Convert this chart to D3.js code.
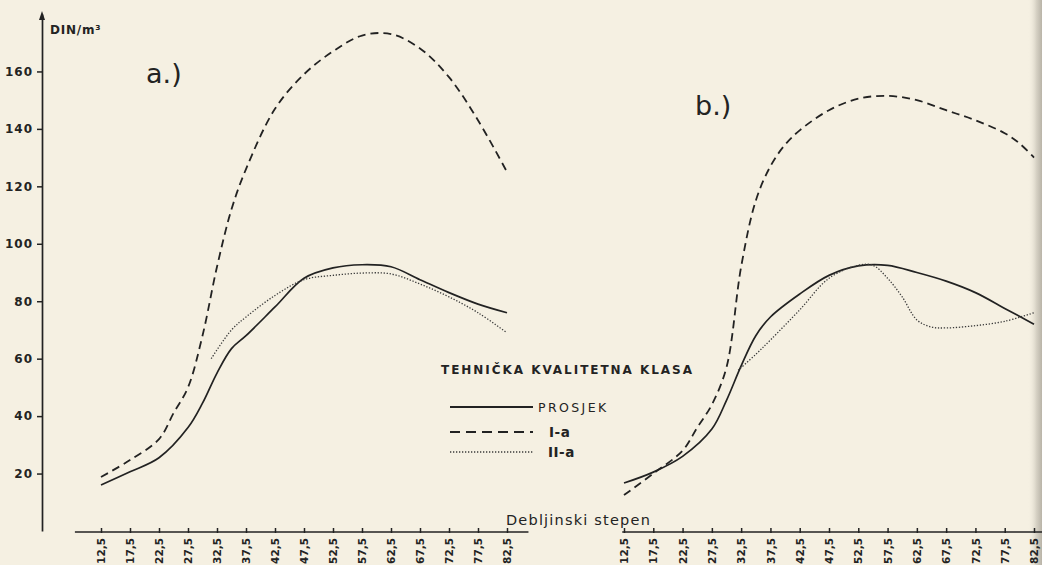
<!DOCTYPE html>
<html><head><meta charset="utf-8">
<script src="https://cdn.jsdelivr.net/npm/d3@7"></script>
<style>
html,body{margin:0;padding:0;background:#f5f0e2;}
svg{display:block;}
text{font-family:"DejaVu Sans",sans-serif;fill:#232323;}
</style></head><body>
<svg id="c" width="1042" height="565"></svg>
<script>
// ---- data ----
const yTicks = [20, 40, 60, 80, 100, 120, 140, 160];
const xTicks = [12.5, 17.5, 22.5, 27.5, 32.5, 37.5, 42.5, 47.5, 52.5, 57.5, 62.5, 67.5, 72.5, 77.5, 82.5];

// panel a.)
const aProsjekX = [12.5, 17.5, 22.5, 27.5, 30, 32.5, 35, 37.5, 42.5, 47.5, 52.5, 57.5, 62.5, 67.5, 72.5, 77.5, 82.5];
const aProsjekY = [16, 20.6, 25.5, 36, 44.5, 55, 63.5, 68, 78, 88, 91.6, 92.7, 92, 87.5, 83, 79, 76];
const aIaX = [12.5, 17.5, 22.5, 25, 27.5, 30, 32.5, 35, 37.5, 42.5, 47.5, 52.5, 57.5, 62.5, 67.5, 72.5, 77.5, 82.5];
const aIaY = [18.8, 24.7, 32, 41, 50, 68, 92, 112, 126, 147, 159, 167, 172.5, 173, 168, 158, 143, 125];
const aIIaX = [31.5, 35, 37.5, 42.5, 47.5, 52.5, 57.5, 62.5, 67.5, 72.5, 77.5, 82.5];
const aIIaY = [60, 70, 74.5, 82, 87.5, 89, 89.8, 89.5, 86, 81.5, 76, 69];

// panel b.)
const bProsjekX = [12.5, 17.5, 22.5, 27.5, 30, 32.5, 35, 37.5, 42.5, 47.5, 52.5, 57.5, 62.5, 67.5, 72.5, 77.5, 82.5];
const bProsjekY = [16.7, 20.5, 26, 35.5, 45.5, 57.5, 68, 74.5, 82.5, 89, 92.3, 92.5, 90, 87, 83, 77.5, 72];
const bIaX = [12.5, 17.5, 22.5, 25, 27.5, 30, 32.5, 35, 37.5, 40, 42.5, 47.5, 52.5, 57.5, 62.5, 67.5, 72.5, 77.5, 80, 82.5];
const bIaY = [12.5, 20, 28, 36, 44, 57, 92, 115, 127, 134.5, 139.5, 146.5, 150.5, 151.5, 150, 146.5, 143, 138.5, 135, 130];
const bIIaX = [32, 35, 37.5, 42.5, 47.5, 52.5, 55, 57.5, 60, 62.5, 65, 67.5, 72.5, 77.5, 82.5];
const bIIaY = [56, 61.5, 66.5, 77, 88, 92.5, 92.5, 88, 81.5, 73.5, 71, 70.7, 71.5, 73, 76];

const legendTitle = "TEHNIČKA KVALITETNA KLASA";
const legendNames = ["PROSJEK", "I-a", "II-a"];
const yLabel = "DIN/m³";
const xLabel = "Debljinski stepen";
const panelLabels = ["a.)", "b.)"];

// ---- drawing ----
const svg = d3.select("#c");
const defs = svg.append("defs");
const gr = defs.append("linearGradient").attr("id", "edge").attr("x1", 0).attr("x2", 1).attr("y1", 0).attr("y2", 0);
gr.append("stop").attr("offset", "0%").attr("stop-color", "#f5f0e2").attr("stop-opacity", 0);
gr.append("stop").attr("offset", "60%").attr("stop-color", "#d6d1c4").attr("stop-opacity", 1);
gr.append("stop").attr("offset", "100%").attr("stop-color", "#b9b4a8").attr("stop-opacity", 1);

svg.append("rect").attr("width", 1042).attr("height", 565).attr("fill", "#f5f0e2");
svg.append("rect").attr("x", 1028).attr("width", 14).attr("height", 565).attr("fill", "url(#edge)");

const ink = "#222";
const y = d3.scaleLinear().domain([0, 180]).range([531, 14]);
const xA = d3.scaleLinear().domain([12.5, 82.5]).range([101, 507]);
const xB = d3.scaleLinear().domain([12.5, 82.5]).range([624, 1034]);

// y axis
const yAxis = svg.append("g").attr("transform", "translate(42,0)")
  .call(d3.axisLeft(y).tickValues(yTicks).tickSize(5).tickSizeOuter(0).tickPadding(4));
yAxis.select(".domain").attr("stroke", ink).attr("stroke-width", 1.7);
yAxis.selectAll(".tick line").attr("stroke", ink).attr("stroke-width", 1.5);
yAxis.selectAll(".tick text").attr("font-size", 12).attr("letter-spacing", 1)
  .attr("font-weight", "bold").attr("fill", "#2a2a2a").attr("font-family", "DejaVu Sans Condensed, DejaVu Sans");
// arrow head
svg.append("path")
  .attr("d", `M42,${y(180) - 3} L39,${y(180) + 6} L45,${y(180) + 6} Z`)
  .attr("fill", ink);
svg.append("text").attr("x", 50).attr("y", 34).attr("font-size", 12)
  .attr("letter-spacing", 0.8).attr("font-weight", "bold")
  .attr("font-family", "DejaVu Sans Condensed, DejaVu Sans").text(yLabel);

// x axes
function xAxis(scale, x0, x1) {
  const g = svg.append("g").attr("transform", "translate(0,532)");
  g.append("line").attr("x1", scale(x0)).attr("x2", scale(x1))
    .attr("stroke", ink).attr("stroke-width", 1.7);
  const ax = d3.axisBottom(scale).tickValues(xTicks).tickSize(0)
    .tickFormat(d => String(d).replace(".", ","));
  const a = g.append("g").call(ax);
  a.select(".domain").remove();
  a.selectAll(".tick").append("line").attr("y1", -4).attr("y2", 1)
    .attr("stroke", ink).attr("stroke-width", 1.5);
  a.selectAll(".tick text")
    .attr("transform", "rotate(-90)")
    .attr("x", -6).attr("y", 0).attr("dy", "0.35em")
    .attr("text-anchor", "end")
    .attr("font-size", 10.5).attr("font-weight", "bold").attr("fill", "#2a2a2a")
    .attr("font-family", "DejaVu Sans Condensed, DejaVu Sans");
}
xAxis(xA, 8, 86.2);
xAxis(xB, 12.2, 86.7);

svg.append("text").attr("x", 506).attr("y", 525).attr("font-size", 14.5)
  .attr("letter-spacing", 1.2).attr("font-family", "Liberation Sans, sans-serif")
  .attr("fill", "#2a2a2a").text(xLabel);

// curves
function series(scale, xs, ys, style) {
  const pts = xs.map((d, i) => [d, ys[i]]);
  const line = d3.line().x(d => scale(d[0])).y(d => y(d[1])).curve(d3.curveCatmullRom.alpha(0.5));
  const p = svg.append("path").datum(pts).attr("d", line).attr("fill", "none")
    .attr("stroke", ink).attr("stroke-linecap", "butt");
  if (style === "solid") p.attr("stroke-width", 1.7);
  if (style === "dash") p.attr("stroke-width", 1.8).attr("stroke-dasharray", "8,5");
  if (style === "dot") p.attr("stroke-width", 1.3).attr("stroke-dasharray", "1.3,1.7").attr("stroke", "#3a3a3a");
}
series(xA, aProsjekX, aProsjekY, "solid");
series(xA, aIaX, aIaY, "dash");
series(xA, aIIaX, aIIaY, "dot");
series(xB, bProsjekX, bProsjekY, "solid");
series(xB, bIaX, bIaY, "dash");
series(xB, bIIaX, bIIaY, "dot");

// panel labels
svg.append("text").attr("x", 146).attr("y", 83).attr("font-size", 27)
  .attr("font-family", "DejaVu Sans, sans-serif").text(panelLabels[0]);
svg.append("text").attr("x", 695).attr("y", 115).attr("font-size", 27)
  .attr("font-family", "DejaVu Sans, sans-serif").text(panelLabels[1]);

// legend
svg.append("text").attr("x", 441).attr("y", 374).attr("font-size", 12)
  .attr("font-weight", "bold").attr("font-family", "DejaVu Sans Condensed, DejaVu Sans")
  .attr("textLength", 251).attr("lengthAdjust", "spacing").text(legendTitle);
const lg = [
  {y: 407, style: "solid", name: legendNames[0], tx: 538, size: 12.5, ls: 2.4},
  {y: 432, style: "dash", name: legendNames[1], tx: 549, size: 13.5, ls: 0.5},
  {y: 452, style: "dot", name: legendNames[2], tx: 548, size: 13.5, ls: 0.5}
];
lg.forEach(d => {
  const l = svg.append("line").attr("x1", 450).attr("x2", 533).attr("y1", d.y).attr("y2", d.y)
    .attr("stroke", ink).attr("stroke-width", d.style === "dot" ? 1.3 : 1.8);
  if (d.style === "dash") l.attr("stroke-dasharray", "10,6");
  if (d.style === "dot") l.attr("stroke-dasharray", "1.3,1.7").attr("stroke", "#3a3a3a");
  svg.append("text").attr("x", d.tx).attr("y", d.y + 5).attr("font-size", d.size)
    .attr("letter-spacing", d.ls)
    .attr("font-weight", d.style === "solid" ? "normal" : "bold")
    .attr("font-family", d.style === "solid" ? "DejaVu Sans" : "Liberation Serif, serif")
    .text(d.name);
});
</script>
</body></html>
